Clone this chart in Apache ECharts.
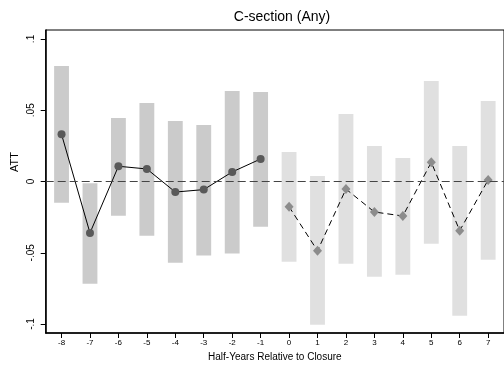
<!DOCTYPE html>
<html><head><meta charset="utf-8">
<script src="https://cdn.jsdelivr.net/npm/echarts@6/dist/echarts.min.js"></script>
<style>html,body{margin:0;padding:0;background:#fff}#c{width:504px;height:367px}</style>
</head><body><div id="c"></div>
<script>
const preX = [-8,-7,-6,-5,-4,-3,-2,-1];
const preEst = [0.0331,-0.0361,0.0107,0.0088,-0.0074,-0.0057,0.0067,0.0158];
const preLo = [-0.0149,-0.0717,-0.0240,-0.0380,-0.0570,-0.0520,-0.0506,-0.0317];
const preHi = [0.0810,-0.0013,0.0446,0.0551,0.0425,0.0396,0.0635,0.0628];
const postX = [0,1,2,3,4,5,6,7];
const postEst = [-0.0177,-0.0486,-0.0053,-0.0214,-0.0242,0.0135,-0.0345,0.0011];
const postLo = [-0.0563,-0.1005,-0.0577,-0.0668,-0.0654,-0.0436,-0.0942,-0.0549];
const postHi = [0.0207,0.0039,0.0474,0.0249,0.0165,0.0705,0.0249,0.0565];
const xTicks = [-8,-7,-6,-5,-4,-3,-2,-1,0,1,2,3,4,5,6,7];
const yTicks = [-0.1,-0.05,0,0.05,0.1];
const yTickLabels = {'-0.1':'-.1','-0.05':'-.05','0':'0','0.05':'.05','0.1':'.1'};

const FONT = 'Liberation Sans';
const chart = echarts.init(document.getElementById('c'));

function barSeries(xs, lo, hi, color){
  return {
    type:'custom', z:1,
    data: xs.map((x,i)=>[x, lo[i], hi[i]]),
    renderItem:function(params, api){
      const x = api.value(0);
      const p1 = api.coord([x, api.value(2)]);
      const p2 = api.coord([x, api.value(1)]);
      const w = api.size([0.522, 0])[0];
      return {type:'rect', shape:{x:p1[0]-w/2, y:p1[1], width:w, height:p2[1]-p1[1]},
              style:{fill:color}};
    },
    silent:true
  };
}

chart.setOption({
  animation:false,
  backgroundColor:'#fff',
  title:{text:'C-section (Any)', left:277, top:5, textAlign:'center',
    textStyle:{fontFamily:FONT, fontSize:14, fontWeight:'normal', color:'#000'}},
  grid:{left:45.7, right:-4.7, top:30, bottom:34, show:true, borderColor:'#000', borderWidth:1, containLabel:false},
  xAxis:{type:'value', min:-8.557, max:7.557,
    name:'Half-Years Relative to Closure', nameLocation:'middle', nameGap:18,
    nameTextStyle:{fontFamily:FONT, fontSize:10, color:'#000'},
    axisLine:{show:true, onZero:false, lineStyle:{color:'#000', width:1.5}},
    axisTick:{show:true, length:5, inside:false, customValues:xTicks, lineStyle:{color:'#000', width:1}},
    axisLabel:{customValues:xTicks, fontFamily:FONT, fontSize:8, color:'#000', margin:6},
    splitLine:{show:false}},
  yAxis:{type:'value', min:-0.1063, max:0.1063,
    axisLine:{show:true, onZero:false, lineStyle:{color:'#000', width:1.5}},
    axisTick:{show:true, length:5, customValues:yTicks, lineStyle:{color:'#000', width:1}},
    axisLabel:{customValues:yTicks, rotate:90, margin:9, fontFamily:FONT, fontSize:10, color:'#000',
      formatter:function(v){ const k = String(Math.round(v*100)/100); return yTickLabels[k] !== undefined ? yTickLabels[k] : k; }},
    splitLine:{show:false}},
  graphic:[{type:'text', rotation:Math.PI/2, x:15, y:162,
    style:{text:'ATT', fontFamily:FONT, fontSize:11, fill:'#000', textAlign:'center', textVerticalAlign:'middle'}}],
  series:[
    barSeries(preX, preLo, preHi, '#cbcbcb'),
    barSeries(postX, postLo, postHi, '#e0e0e0'),
    {type:'line', z:3, data:[], markLine:{silent:true, symbol:'none', label:{show:false},
      lineStyle:{color:'#444', width:1.2, type:[8,4]}, data:[{yAxis:0}]}},
    {type:'line', z:4, data:preX.map((x,i)=>[x, preEst[i]]), symbol:'circle', symbolSize:8,
      itemStyle:{color:'#595959'}, lineStyle:{color:'#000', width:1}},
    {type:'line', z:4, data:postX.map((x,i)=>[x, postEst[i]]), symbol:'diamond', symbolSize:[9,10],
      itemStyle:{color:'#8c8c8c'}, lineStyle:{color:'#000', width:1, type:[6,4]}}
  ]
});
</script></body></html>
